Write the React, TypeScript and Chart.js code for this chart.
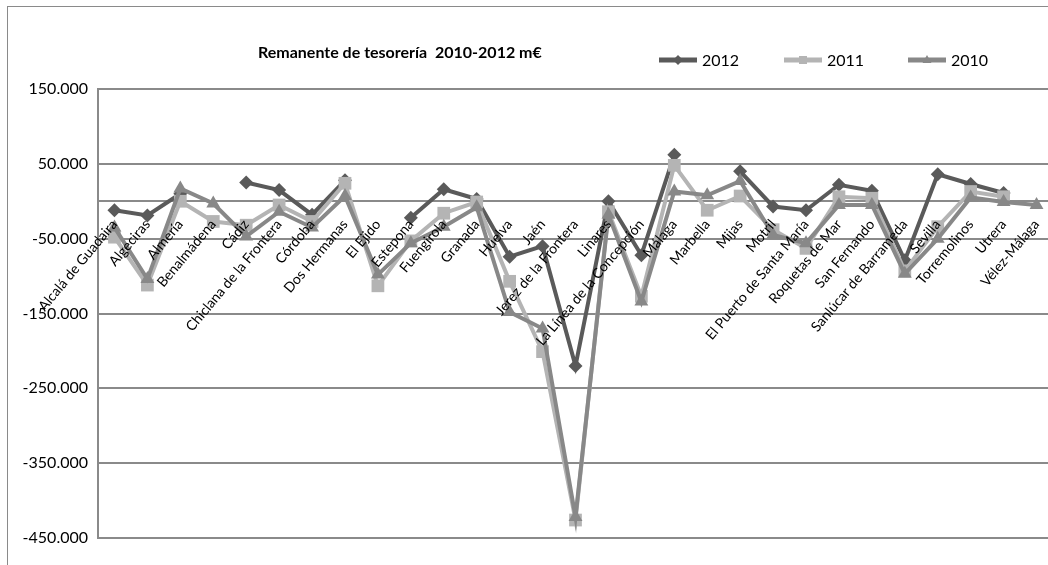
import React, { useEffect, useRef } from 'react';
import { Chart, registerables } from 'chart.js';

Chart.register(...registerables);

const categories = [
  'Alcalá de Guadaira', 'Algeciras', 'Almería', 'Benalmádena', 'Cádiz',
  'Chiclana de la Frontera', 'Córdoba', 'Dos Hermanas', 'El Ejido', 'Estepona',
  'Fuengirola', 'Granada', 'Huelva', 'Jaén', 'Jerez de la Frontera', 'Linares',
  'La Línea de la Concepción', 'Málaga', 'Marbella', 'Mijas', 'Motril',
  'El Puerto de Santa María', 'Roquetas de Mar', 'San Fernando',
  'Sanlúcar de Barrameda', 'Sevilla', 'Torremolinos', 'Utrera', 'Vélez-Málaga',
];

const values2012 = [
  -12000, -19000, 10000, null, 25000, 15000, -18000, 28000, null, -22000,
  16000, 3000, -74000, -60000, -220000, 0, -72000, 62000, null, 40000,
  -7000, -12000, 22000, 14000, -79000, 36000, 23000, 11000, null,
];
const values2011 = [
  -48000, -112000, 0, -27000, -32000, -5000, -27000, 24000, -113000, -53000,
  -16000, -1000, -107000, -201000, -426000, -14000, -127000, 48000, -12000, 7000,
  -38000, -63000, 6000, 4000, -93000, -34000, 13000, 6000, null,
];
const values2010 = [
  -35000, -104000, 17000, -3000, -47000, -14000, -35000, 7000, -98000, -56000,
  -34000, -8000, -148000, -170000, -422000, -18000, -134000, 13000, 8000, 27000,
  -45000, -56000, -5000, -5000, -97000, -50000, 5000, -1000, -5000,
];

const seriesLabels = ['2012', '2011', '2010'];
const yTicks = [-450000, -350000, -250000, -150000, -50000, 50000, 150000];
const chartTitle = 'Remanente de tesorería  2010-2012 m€';

const FONT = 'Lato, "Open Sans", sans-serif';
const COLORS = ['#5a5a5a', '#b4b4b4', '#888888'];
const MARKERS = ['diamond', 'square', 'triangle'];
const GRID = '#8a8a8a';

function fmt(n: number): string {
  const s = Math.abs(n).toString().replace(/\B(?=(\d{3})+(?!\d))/g, '.');
  return (n < 0 ? '-' : '') + s;
}

function drawMarker(ctx: CanvasRenderingContext2D, kind: string, x: number, y: number, r: number) {
  ctx.beginPath();
  if (kind === 'diamond') {
    ctx.moveTo(x, y - r);
    ctx.lineTo(x + r, y);
    ctx.lineTo(x, y + r);
    ctx.lineTo(x - r, y);
  } else if (kind === 'square') {
    ctx.rect(x - r * 0.8, y - r * 0.8, r * 1.6, r * 1.6);
  } else {
    ctx.moveTo(x, y - r);
    ctx.lineTo(x + r * 0.9, y + r * 0.6);
    ctx.lineTo(x - r * 0.9, y + r * 0.6);
  }
  ctx.closePath();
  ctx.fill();
}

const decorPlugin = {
  id: 'decor',
  afterDraw(chart: any) {
    const ctx = chart.ctx as CanvasRenderingContext2D;
    ctx.save();
    // outer frame
    ctx.strokeStyle = '#8a8a8a';
    ctx.lineWidth = 1;
    ctx.strokeRect(7.5, 6.5, 1100, 700);
    // title
    ctx.fillStyle = '#000';
    ctx.font = `bold 16px ${FONT}`;
    ctx.textBaseline = 'middle';
    ctx.textAlign = 'left';
    ctx.fillText(chartTitle, 258, 53);
    // legend
    const xs = [659, 784, 908];
    ctx.font = `16px ${FONT}`;
    seriesLabels.forEach((lab, i) => {
      const x0 = xs[i];
      const y = 60;
      ctx.strokeStyle = COLORS[i];
      ctx.fillStyle = COLORS[i];
      ctx.lineWidth = 5;
      ctx.beginPath();
      ctx.moveTo(x0, y);
      ctx.lineTo(x0 + 38, y);
      ctx.stroke();
      drawMarker(ctx, MARKERS[i], x0 + 19, y, 5);
      ctx.fillStyle = '#000';
      ctx.fillText(lab, x0 + 43, y + 1);
    });
    ctx.restore();
  },
};

export default function App() {
  const ref = useRef<HTMLCanvasElement | null>(null);

  useEffect(() => {
    if (!ref.current) return;
    const chart = new Chart(ref.current, {
      type: 'line',
      data: {
        labels: categories,
        datasets: [
          {
            label: seriesLabels[0],
            data: values2012,
            borderColor: COLORS[0],
            backgroundColor: COLORS[0],
            borderWidth: 4,
            pointStyle: 'rectRot',
            pointRadius: 7,
            pointBorderWidth: 0,
            order: 3,
            spanGaps: false,
          },
          {
            label: seriesLabels[1],
            data: values2011,
            borderColor: COLORS[1],
            backgroundColor: COLORS[1],
            borderWidth: 4,
            pointStyle: 'rect',
            pointRadius: 9,
            pointBorderWidth: 0,
            order: 2,
            spanGaps: false,
          },
          {
            label: seriesLabels[2],
            data: values2010,
            borderColor: COLORS[2],
            backgroundColor: COLORS[2],
            borderWidth: 4,
            pointStyle: 'triangle',
            pointRadius: 8,
            pointBorderWidth: 0,
            order: 1,
            spanGaps: false,
          },
        ],
      },
      options: {
        responsive: false,
        animation: false,
        layout: { padding: { left: 0, top: 89, right: 8, bottom: 62 } },
        plugins: {
          legend: { display: false },
          title: { display: false },
          tooltip: { enabled: false },
        },
        scales: {
          x: {
            type: 'category',
            offset: true,
            position: { y: 0 } as any,
            grid: { display: false, drawTicks: false },
            border: { display: true, color: GRID, width: 2 },
            ticks: {
              autoSkip: false,
              maxRotation: 50,
              minRotation: 50,
              padding: 15,
              z: 1,
              color: '#000',
              font: { family: FONT, size: 14 },
            },
            afterFit(scale: any) {
              scale.paddingLeft = 0;
              scale.paddingRight = 0;
              scale.paddingTop = 0;
              scale.paddingBottom = 0;
            },
          },
          y: {
            position: 'left',
            min: -450000,
            max: 150000,
            afterBuildTicks(scale: any) {
              scale.ticks = yTicks.map((v) => ({ value: v }));
            },
            grid: { color: GRID, lineWidth: 2, drawTicks: false },
            border: { display: true, color: GRID, width: 2 },
            ticks: {
              padding: 10,
              color: '#000',
              font: { family: FONT, size: 16 },
              callback: (v: any) => fmt(Number(v)),
            },
            afterFit(scale: any) {
              scale.width = 98;
              scale.paddingTop = 0;
              scale.paddingBottom = 0;
            },
          },
        },
      },
      plugins: [decorPlugin],
    });
    return () => chart.destroy();
  }, []);

  return (
    <div
      style={{
        position: 'fixed',
        left: 0,
        top: 0,
        width: 1048,
        height: 565,
        overflow: 'hidden',
        background: '#fff',
      }}
    >
      <canvas ref={ref} width={1062} height={600} style={{ display: 'block' }} />
    </div>
  );
}
